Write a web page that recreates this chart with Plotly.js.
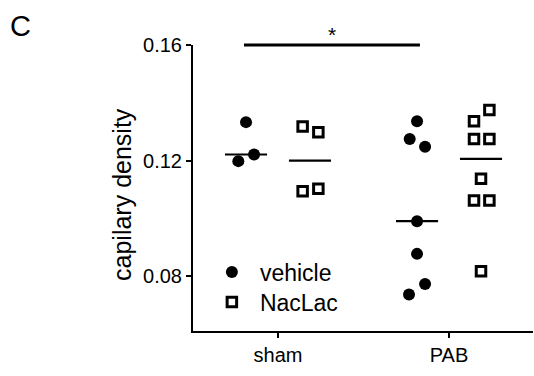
<!DOCTYPE html>
<html>
<head>
<meta charset="utf-8">
<script src="https://cdn.plot.ly/plotly-3.0.1.min.js"></script>
<style>html,body{margin:0;padding:0;background:#fff;}#chart{width:534px;height:376px;}</style>
</head>
<body>
<div id="chart"></div>
<script>
// ---- data ----
const groups = ['sham', 'PAB'];
const groupPos = [1, 2];
const seriesNames = ['vehicle', 'NacLac'];
const shamVehicle = [0.1333, 0.1198, 0.1221];
const shamNacLac = [0.1318, 0.1298, 0.1094, 0.1102];
const pabVehicle = [0.1336, 0.1275, 0.1248, 0.0990, 0.0877, 0.0773, 0.0736];
const pabNacLac = [0.1375, 0.1336, 0.1275, 0.1275, 0.1137, 0.1062, 0.1062, 0.0817];
const yTicks = [0.08, 0.12, 0.16];
const yTickText = ['0.08', '0.12', '0.16'];
const sigLabel = '*';
const panelLabel = 'C';
const yTitle = 'capilary density';

// ---- layout helpers (scatter jitter, offsets) ----
const shamVehicleJit = [0, -0.045, 0.047];
const shamNacLacJit = [-0.043, 0.049, -0.043, 0.049];
const pabVehicleJit = [0, -0.043, 0.047, 0, 0, 0.047, -0.047];
const pabNacLacJit = [0.049, -0.041, -0.041, 0.049, 0, -0.041, 0.049, 0];
const off = 0.187;
const halfW = 0.123;
const FONT = 'Arial, "Liberation Sans", Helvetica, sans-serif';

function median(a) {
  const s = a.slice().sort((p, q) => p - q);
  const n = s.length;
  return n % 2 ? s[(n - 1) / 2] : (s[n / 2 - 1] + s[n / 2]) / 2;
}
function xs(center, jit) { return jit.map(j => center + j); }

const cells = [
  {vals: shamVehicle, jit: shamVehicleJit, c: groupPos[0] - off, s: 0},
  {vals: shamNacLac, jit: shamNacLacJit, c: groupPos[0] + off, s: 1},
  {vals: pabVehicle, jit: pabVehicleJit, c: groupPos[1] - off, s: 0},
  {vals: pabNacLac, jit: pabNacLacJit, c: groupPos[1] + off, s: 1}
];

const markerStyles = [
  {symbol: 'circle', size: 12, color: '#000', line: {width: 0}},
  {symbol: 'square-open', size: 9.5, color: '#000', line: {width: 3, color: '#000'}}
];
const legendIds = ['legend', 'legend2'];

const traces = [];
cells.forEach((cell, i) => {
  traces.push({
    type: 'scatter', mode: 'markers',
    x: xs(cell.c, cell.jit), y: cell.vals,
    name: seriesNames[cell.s],
    legendgroup: seriesNames[cell.s],
    legend: legendIds[cell.s],
    showlegend: i < 2,
    marker: markerStyles[cell.s],
    cliponaxis: false,
    hoverinfo: 'skip'
  });
});
cells.forEach(cell => {
  const m = median(cell.vals);
  traces.push({
    type: 'scatter', mode: 'lines',
    x: [cell.c - halfW, cell.c + halfW], y: [m, m],
    line: {color: '#000', width: 2.2},
    showlegend: false, hoverinfo: 'skip'
  });
});

const barX0 = groupPos[0] - off - 0.012;
const barX1 = groupPos[1] - off + 0.017;

const legendBase = {
  xanchor: 'left', yanchor: 'middle',
  bgcolor: 'rgba(0,0,0,0)', borderwidth: 0,
  font: {family: FONT, size: 23, color: '#000'},
  itemwidth: 46, tracegroupgap: 0
};

const layout = {
  width: 534, height: 376,
  margin: {l: 193, r: 1, t: 45, b: 45, pad: 0},
  paper_bgcolor: '#fff', plot_bgcolor: '#fff',
  font: {family: FONT, color: '#000', size: 20},
  showlegend: true,
  legend: Object.assign({x: 0.032, y: 0.206}, legendBase),
  legend2: Object.assign({x: 0.032, y: 0.101}, legendBase),
  xaxis: {
    range: [0.503, 2.491],
    tickvals: groupPos, ticktext: groups,
    ticks: 'outside', ticklen: 5, tickwidth: 2, tickcolor: '#000',
    showline: true, linewidth: 2, linecolor: '#000',
    showgrid: false, zeroline: false,
    tickfont: {family: FONT, size: 20, color: '#000'},
    fixedrange: true
  },
  yaxis: {
    range: [0.061, 0.16],
    tickvals: yTicks, ticktext: yTickText,
    ticks: 'outside', ticklen: 5, tickwidth: 2, tickcolor: '#000',
    showline: true, linewidth: 2, linecolor: '#000',
    showgrid: false, zeroline: false,
    tickfont: {family: FONT, size: 20, color: '#000'},
    fixedrange: true
  },
  shapes: [{
    type: 'line', xref: 'x', yref: 'paper',
    x0: barX0, x1: barX1, y0: 1, y1: 1,
    line: {color: '#000', width: 3}
  }],
  annotations: [
    {text: sigLabel, xref: 'x', yref: 'paper', x: (barX0 + barX1) / 2, y: 1.0,
     xanchor: 'center', yanchor: 'bottom', yshift: -3, showarrow: false,
     font: {family: FONT, size: 21, color: '#000'}},
    {text: panelLabel, xref: 'paper', yref: 'paper', x: -0.545, y: 1.077,
     xanchor: 'left', yanchor: 'middle', yshift: -3, showarrow: false,
     font: {family: FONT, size: 29, color: '#000'}},
    {text: yTitle, xref: 'paper', yref: 'paper', x: -0.209, y: 0.479,
     xanchor: 'center', yanchor: 'middle', textangle: -90, showarrow: false,
     font: {family: FONT, size: 25, color: '#000'}}
  ]
};

Plotly.newPlot('chart', traces, layout, {displayModeBar: false, staticPlot: true});
</script>
</body>
</html>
